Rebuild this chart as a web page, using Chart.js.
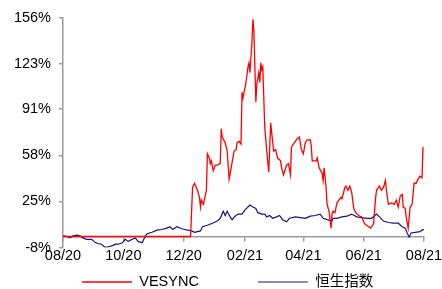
<!DOCTYPE html>
<html>
<head>
<meta charset="utf-8">
<script src="https://cdn.jsdelivr.net/npm/chart.js@4/dist/chart.umd.min.js"></script>
<style>
  html, body { margin: 0; padding: 0; background: #fff; }
  canvas { display: block; }
</style>
</head>
<body>
<canvas id="chart" width="442" height="289"></canvas>
<script>
// x = days since start of 08/2020, y = cumulative return (%)
const xTickDays = [0, 61, 122, 184, 243, 304, 365];
const xTickLabels = ["08/20", "10/20", "12/20", "02/21", "04/21", "06/21", "08/21"];
const yTickValues = [-8, 25, 58, 91, 123, 156];

const vesyncDays = [0, 129, 131, 133, 136, 138, 139, 140, 142, 145, 146, 148, 149, 150, 152, 154, 156, 159, 160, 161,
  164, 166, 168, 170, 173, 175, 176, 178, 180, 181, 182, 185, 187, 188, 189, 191, 192, 193, 195, 196,
  198, 199, 200, 201, 202, 204, 206, 208, 210, 211, 213, 215, 217, 220, 221, 223, 226, 228, 230, 231,
  234, 237, 239, 241, 243, 245, 247, 250, 251, 252, 256, 257, 259, 262, 263, 264, 266, 267, 269, 271,
  272, 273, 275, 277, 279, 281, 282, 285, 286, 288, 290, 292, 294, 296, 299, 302, 305, 307, 311, 314,
  316, 317, 320, 322, 324, 326, 327, 329, 332, 335, 337, 339, 341, 343, 344, 346, 347, 349, 351, 353,
  355, 357, 359, 361, 363, 364];
const vesyncValues = [0, 0, 35, 38, 33, 28, 21, 26, 23, 33, 59, 56, 52, 54, 47, 51, 51, 52, 77, 71,
  67, 61, 41, 49, 61, 62, 67, 68, 66, 103, 99, 110, 121, 124, 117, 138, 155, 147, 96, 109,
  117, 110, 124, 119, 121, 78, 61, 46, 81, 74, 61, 62, 56, 54, 49, 44, 51, 52, 44, 64,
  67, 70, 71, 62, 59, 67, 69, 69, 65, 54, 54, 56, 49, 45, 40, 49, 35, 23, 18, 6,
  16, 18, 17, 24, 26, 28, 27, 35, 36, 33, 36, 31, 20, 17, 15, 14, 9, 8, 6, 9,
  27, 33, 36, 33, 35, 40, 33, 23, 24, 23, 26, 21, 29, 30, 21, 20, 14, 6, 21, 23,
  38, 38, 41, 43, 42, 64];

const hsiDays = [0, 2, 7, 10, 14, 17, 20, 24, 29, 32, 35, 39, 42, 45, 50, 53, 56, 60, 63, 66,
  70, 73, 76, 80, 83, 85, 90, 95, 100, 105, 108, 111, 115, 120, 123, 126, 130, 133, 139, 141,
  146, 151, 156, 159, 162, 164, 166, 169, 171, 174, 177, 181, 184, 189, 192, 195, 197, 201, 204, 206,
  209, 212, 216, 219, 222, 226, 229, 235, 240, 245, 250, 255, 260, 263, 267, 272, 273, 277, 282, 287,
  292, 297, 302, 307, 312, 317, 320, 324, 329, 334, 339, 343, 346, 348, 350, 352, 356, 361, 364, 366];
const hsiValues = [0, 0.5, -1, 0.5, 1, 0.5, -1, -2, -2, -4, -5, -5.5, -7.5, -7.5, -6.5, -5.5, -5.5, -4.5, -2, -3.5,
  -2, -1, -3.5, -4.5, 0, 2, 3, 4.5, 5, 6, 7, 5, 7, 5.5, 5, 4.5, 4, 3, 4, 7,
  8, 9.5, 11, 13, 18, 15, 18, 14, 12, 14.5, 16, 16, 19, 22.5, 21, 20, 17, 16, 16, 14,
  15, 13, 14, 15, 12, 10.5, 13, 14, 13.5, 13, 14.5, 15, 16, 13, 12, 11, 13, 13, 14, 14.5,
  16, 14, 13.5, 13, 13, 16, 14, 11, 10, 9.5, 9.5, 7, 6, 2.5, -0.5, 2.5, 3, 3.5, 5, 4.5];

const FONT = "'Liberation Sans', Arial, 'Noto Sans CJK SC', sans-serif";
const AXIS_GRAY = "#9a9a9a";
const LEGEND_GAP = 59;

function toPoints(xs, ys) {
  return xs.map((x, i) => ({ x: x, y: ys[i] }));
}

// moves the bottom legend so its row sits near the canvas foot, first item at x=82
const legendPlace = {
  id: "legendPlace",
  afterLayout(chart) {
    const lg = chart.legend;
    if (!lg || !lg.lineWidths) return;
    const itemH = 14.5;
    lg.top = 282 - itemH / 2 - LEGEND_GAP;
    lg.bottom = chart.height;
    lg.right = chart.width;
    lg.left = 2 * 82 - LEGEND_GAP - lg.right + lg.lineWidths[0];
  },
};

new Chart(document.getElementById("chart"), {
  type: "line",
  data: {
    datasets: [
      {
        label: "VESYNC",
        data: toPoints(vesyncDays, vesyncValues),
        borderColor: "#ff0000",
        backgroundColor: "#ff0000",
        borderWidth: 1.3,
        pointRadius: 0,
        tension: 0,
      },
      {
        label: "恒生指数",
        data: toPoints(hsiDays, hsiValues),
        borderColor: "#141482",
        backgroundColor: "#141482",
        borderWidth: 1.2,
        pointRadius: 0,
        tension: 0,
      },
    ],
  },
  options: {
    responsive: false,
    animation: false,
    devicePixelRatio: 1,
    layout: { padding: { top: 18, right: 18, left: 0, bottom: 0 } },
    plugins: {
      tooltip: { enabled: false },
      legend: {
        position: "bottom",
        maxHeight: 41.3,
        labels: {
          usePointStyle: true,
          pointStyle: "line",
          pointStyleWidth: 50,
          padding: LEGEND_GAP,
          color: "#000",
          font: { family: FONT, size: 14.5 },
        },
      },
    },
    scales: {
      x: {
        type: "linear",
        position: { y: 0 },
        min: 0,
        max: 365,
        afterBuildTicks: (scale) => {
          scale.ticks = xTickDays.map((v) => ({ value: v }));
        },
        afterFit: (scale) => {
          // let the end labels overhang instead of shrinking the plot
          scale.paddingLeft = 0;
          scale.paddingRight = 0;
        },
        ticks: {
          autoSkip: false,
          maxRotation: 0,
          padding: 7,
          color: "#000",
          font: { family: FONT, size: 14.5 },
          callback: (v, i) => xTickLabels[i],
        },
        grid: { drawOnChartArea: false, tickLength: 4, color: AXIS_GRAY, lineWidth: 1.5 },
        border: { color: AXIS_GRAY, width: 1.5 },
      },
      y: {
        min: -8,
        max: 156,
        afterBuildTicks: (scale) => {
          scale.ticks = yTickValues.map((v) => ({ value: v }));
        },
        afterFit: (scale) => {
          scale.width = 63;
        },
        ticks: {
          padding: 8,
          color: "#000",
          font: { family: FONT, size: 14.5 },
          callback: (v) => v + "%",
        },
        grid: { drawOnChartArea: false, tickLength: 4, color: AXIS_GRAY, lineWidth: 1.5 },
        border: { color: AXIS_GRAY, width: 1.5 },
      },
    },
  },
  plugins: [legendPlace],
});
</script>
</body>
</html>
